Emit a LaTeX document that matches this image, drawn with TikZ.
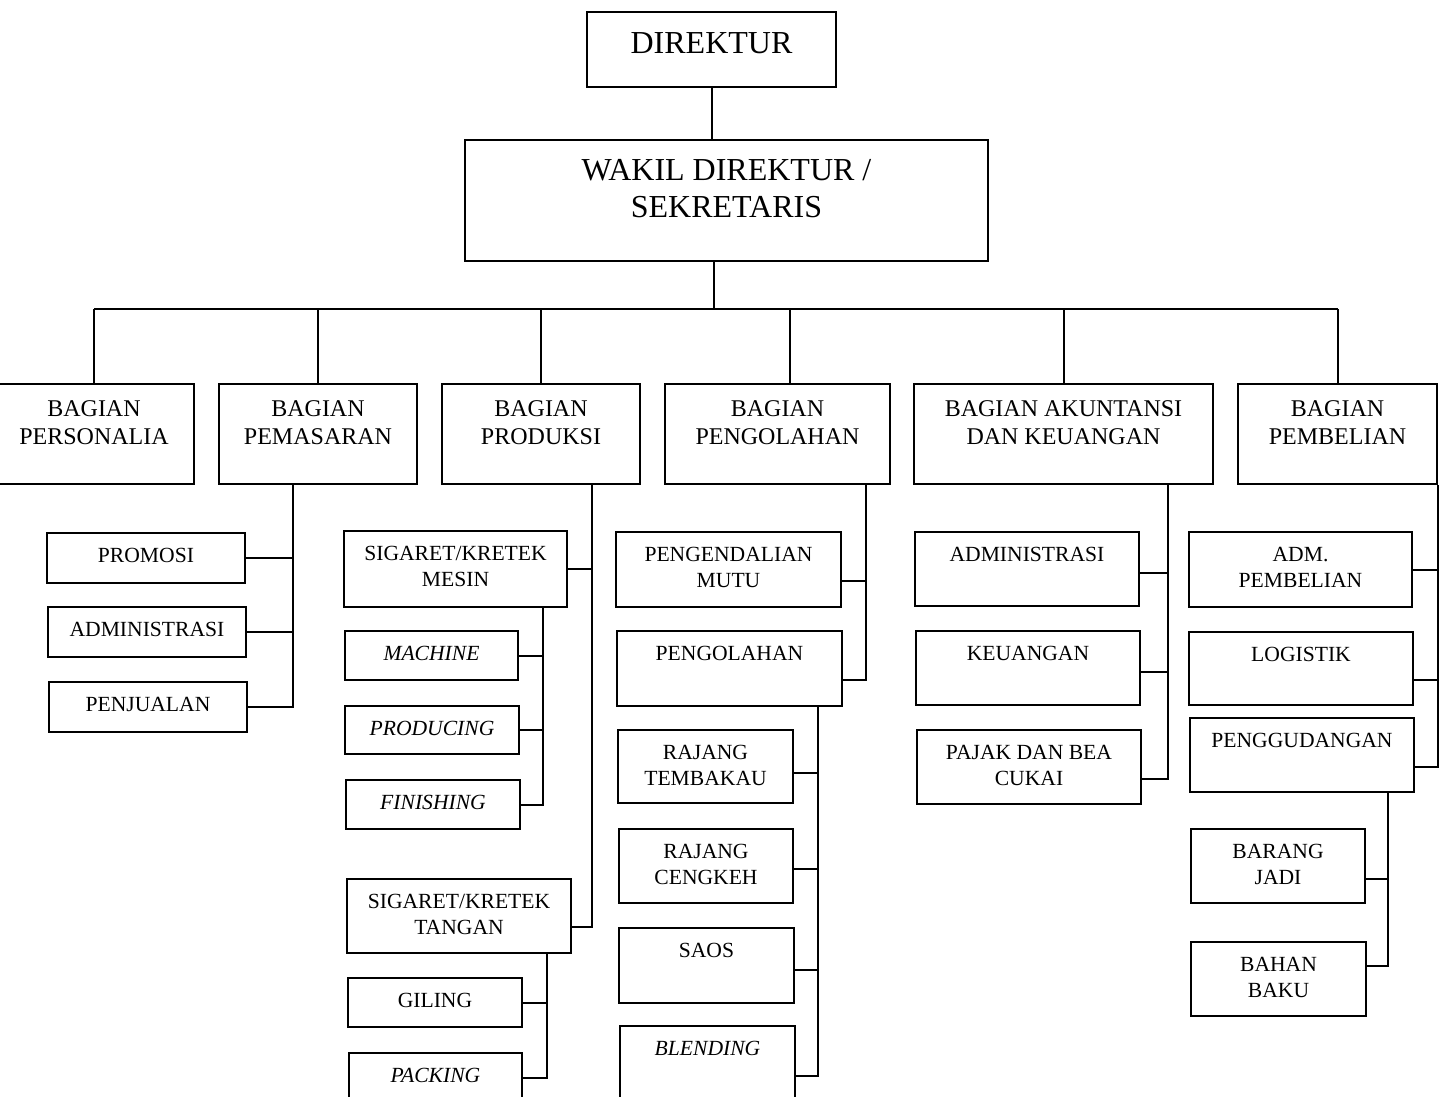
\documentclass[tikz,border=0pt]{standalone}
\usepackage{fontspec}
\setmainfont{Liberation Serif}
\usetikzlibrary{positioning}

\tikzset{
  box/.style={draw, line width=1pt, inner sep=0pt},
  head/.style={box, minimum height=50pt},
  unit/.style={box, minimum height=37.5pt},
  small/.style={box, minimum height=25pt},
  txt/.style={anchor=north, inner sep=0pt, align=center, font=\fontsize{10.8}{13}\selectfont},
  headtxt/.style={txt, font=\fontsize{12}{14}\selectfont},
  toptxt/.style={txt, font=\fontsize{16}{18.5}\selectfont},
  conn/.style={line width=1pt}
}

\begin{document}
\begin{tikzpicture}[x=0.5pt, y=-0.5pt]
    \useasboundingbox (0,0) rectangle (1447,1097);

    \node[box, minimum width=124.5pt, minimum height=37.5pt] (direktur) at (711.5,49.5) {};
    \node[toptxt, below=10.5pt of direktur.north] (direktur-t) {DIREKTUR};
    \node[box, minimum width=261.5pt, minimum height=60.5pt] (wakil) at (726.5,200.5) {};
    \node[toptxt, below=10pt of wakil.north] (wakil-t) {WAKIL DIREKTUR /\\SEKRETARIS};

    \node[head, minimum width=100pt] (personalia) at (94,434) {};
    \node[headtxt, below=8.5pt of personalia.north] (personalia-t) {BAGIAN\\PERSONALIA};
    \node[head, minimum width=99pt] (pemasaran) at (318,434) {};
    \node[headtxt, below=8.5pt of pemasaran.north] (pemasaran-t) {BAGIAN\\PEMASARAN};
    \node[head, minimum width=99pt] (produksi) at (541,434) {};
    \node[headtxt, below=8.5pt of produksi.north] (produksi-t) {BAGIAN\\PRODUKSI};
    \node[head, minimum width=112.5pt] (pengolahan) at (777.5,434) {};
    \node[headtxt, below=8.5pt of pengolahan.north] (pengolahan-t) {BAGIAN\\PENGOLAHAN};
    \node[head, minimum width=149.5pt] (akuntansi) at (1063.5,434) {};
    \node[headtxt, below=8.5pt of akuntansi.north] (akuntansi-t) {BAGIAN AKUNTANSI\\DAN KEUANGAN};
    \node[head, minimum width=99.5pt] (pembelian) at (1337.5,434) {};
    \node[headtxt, below=8.5pt of pembelian.north] (pembelian-t) {BAGIAN\\PEMBELIAN};

    % pemasaran
    \node[small, minimum width=99pt] (promosi) at (146,558) {};
    \node[txt, below=8pt of promosi.north] (promosi-t) {PROMOSI};
    \node[small, minimum width=99pt] (pemadm) at (147,632) {};
    \node[txt, below=8pt of pemadm.north] (pemadm-t) {ADMINISTRASI};
    \node[small, minimum width=99pt] (penjualan) at (148,706.5) {};
    \node[txt, below=8pt of penjualan.north] (penjualan-t) {PENJUALAN};

    % produksi
    \node[unit, minimum width=111.5pt, minimum height=38pt] (mesin) at (455.5,569) {};
    \node[txt, below=8pt of mesin.north] (mesin-t) {SIGARET/KRETEK\\MESIN};
    \node[small, minimum width=86.5pt, minimum height=24.5pt] (machine) at (431.5,655.5) {};
    \node[txt, below=8pt of machine.north] (machine-t) {\textit{MACHINE}};
    \node[small, minimum width=87pt, minimum height=24pt] (producing) at (432,730) {};
    \node[txt, below=8pt of producing.north] (producing-t) {\textit{PRODUCING}};
    \node[small, minimum width=87pt, minimum height=24.5pt] (finishing) at (433,804.5) {};
    \node[txt, below=8pt of finishing.north] (finishing-t) {\textit{FINISHING}};
    \node[unit, minimum width=112pt, minimum height=37pt] (tangan) at (459,916) {};
    \node[txt, below=8pt of tangan.north] (tangan-t) {SIGARET/KRETEK\\TANGAN};
    \node[small, minimum width=87pt, minimum height=24.5pt] (giling) at (435,1002.5) {};
    \node[txt, below=8pt of giling.north] (giling-t) {GILING};
    \node[small, minimum width=86.5pt, minimum height=24.5pt] (packing) at (435.5,1077.5) {};
    \node[txt, below=8pt of packing.north] (packing-t) {\textit{PACKING}};

    % pengolahan
    \node[unit, minimum width=112.5pt] (mutu) at (728.5,569.5) {};
    \node[txt, below=8pt of mutu.north] (mutu-t) {PENGENDALIAN\\MUTU};
    \node[unit, minimum width=112.5pt] (olah) at (729.5,668.5) {};
    \node[txt, below=8pt of olah.north] (olah-t) {PENGOLAHAN};
    \node[unit, minimum width=87.5pt, minimum height=36.5pt] (tembakau) at (705.5,766.5) {};
    \node[txt, below=8pt of tembakau.north] (tembakau-t) {RAJANG\\TEMBAKAU};
    \node[unit, minimum width=87pt, minimum height=37pt] (cengkeh) at (706,866) {};
    \node[txt, below=8pt of cengkeh.north] (cengkeh-t) {RAJANG\\CENGKEH};
    \node[unit, minimum width=87.5pt] (saos) at (706.5,965.5) {};
    \node[txt, below=8pt of saos.north] (saos-t) {SAOS};
    \node[unit, minimum width=87.5pt] (blending) at (707.5,1063.5) {};
    \node[txt, below=8pt of blending.north] (blending-t) {\textit{BLENDING}};

    % akuntansi
    \node[unit, minimum width=112pt, minimum height=37pt] (akadm) at (1027,569) {};
    \node[txt, below=8pt of akadm.north] (akadm-t) {ADMINISTRASI};
    \node[unit, minimum width=112pt, minimum height=37pt] (keuangan) at (1028,668) {};
    \node[txt, below=8pt of keuangan.north] (keuangan-t) {KEUANGAN};
    \node[unit, minimum width=112pt, minimum height=37pt] (pajak) at (1029,767) {};
    \node[txt, below=8pt of pajak.north] (pajak-t) {PAJAK DAN BEA\\CUKAI};

    % pembelian
    \node[unit, minimum width=111.5pt] (admbeli) at (1300.5,569.5) {};
    \node[txt, below=8pt of admbeli.north] (admbeli-t) {ADM.\\PEMBELIAN};
    \node[unit, minimum width=112pt, minimum height=36.5pt] (logistik) at (1301,668.5) {};
    \node[txt, below=8pt of logistik.north] (logistik-t) {LOGISTIK};
    \node[unit, minimum width=112pt, minimum height=37pt] (gudang) at (1302,755) {};
    \node[txt, below=8pt of gudang.north] (gudang-t) {PENGGUDANGAN};
    \node[unit, minimum width=87pt, minimum height=37pt] (barang) at (1278,866) {};
    \node[txt, below=8pt of barang.north] (barang-t) {BARANG\\JADI};
    \node[unit, minimum width=87.5pt, minimum height=37pt] (bahan) at (1278.5,979) {};
    \node[txt, below=8pt of bahan.north] (bahan-t) {BAHAN\\BAKU};

    % garis
    \coordinate (bus) at (714,309);
    \coordinate (olahtop) at ([xshift=6.25pt]pengolahan.north);
    \draw[conn] (direktur.south) -- (direktur.south |- wakil.north);
    \draw[conn] (wakil.south -| bus) -- (bus);
    \draw[conn] (personalia.north |- bus) -- (pembelian.north |- bus);
    \foreach \n in {personalia,pemasaran,produksi,akuntansi,pembelian}
        \draw[conn] (\n.north |- bus) -- (\n.north);
    \draw[conn] (olahtop |- bus) -- (olahtop);

    \coordinate (pemtr) at (pemasaran.south -| 293,0);
    \foreach \n in {promosi,pemadm,penjualan}
        \draw[conn] (pemtr) |- (\n.east);

    \coordinate (prodtr) at (produksi.south -| 592,0);
    \draw[conn] (prodtr) |- (mesin.east);
    \draw[conn] (prodtr) |- ([yshift=-5.5pt]tangan.east);
    \coordinate (mesintr) at (mesin.south -| 543,0);
    \foreach \n in {machine,producing,finishing}
        \draw[conn] (mesintr) |- (\n.east);
    \coordinate (tangantr) at (tangan.south -| 547,0);
    \foreach \n in {giling,packing}
        \draw[conn] (tangantr) |- (\n.east);

    \coordinate (olahtr) at (pengolahan.south -| 866,0);
    \foreach \n in {mutu,olah}
        \draw[conn] (olahtr) |- ([yshift=-5.75pt]\n.east);
    \coordinate (olahsubtr) at (olah.south -| 818,0);
    \foreach \n/\d in {tembakau/-3.25,cengkeh/-1.5,saos/-2.25,blending/-6.25}
        \draw[conn] (olahsubtr) |- ([yshift=\d pt]\n.east);

    \coordinate (aktr) at (akuntansi.south -| 1168,0);
    \foreach \n/\d in {akadm/-2,keuangan/-2,pajak/-6}
        \draw[conn] (aktr) |- ([yshift=\d pt]\n.east);

    \coordinate (belitr) at (pembelian.south -| 1438,0);
    \foreach \n/\d in {admbeli/0,logistik/-5.75,gudang/-6}
        \draw[conn] (belitr) |- ([yshift=\d pt]\n.east);
    \coordinate (gudangtr) at (gudang.south -| 1388,0);
    \foreach \n/\d in {barang/-6.5,bahan/6.5}
        \draw[conn] (gudangtr) |- ([yshift=\d pt]\n.east);
\end{tikzpicture}
\end{document}
